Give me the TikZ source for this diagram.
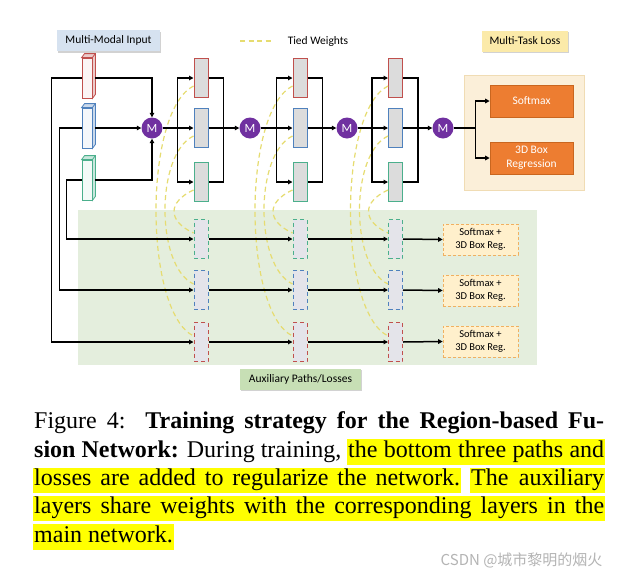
\documentclass[tikz,border=0pt]{standalone}
\usepackage{fontspec}
\setmainfont{Liberation Serif}
\newfontfamily\diagfont{Carlito}
\newfontfamily\cjkfont{Noto Sans CJK SC}
\usepackage{xcolor}
\usetikzlibrary{positioning, arrows.meta, calc, shadows}
\definecolor{redc}{HTML}{C0504D}
\definecolor{bluec}{HTML}{4F81BD}
\definecolor{greenc}{HTML}{4BAF8C}
\definecolor{mpurple}{HTML}{7030A0}
\definecolor{layergray}{HTML}{DCDCDC}
\definecolor{auxgray}{HTML}{E4E4EA}
\definecolor{tiedc}{HTML}{E6DC70}
\definecolor{auxbgc}{HTML}{E4EEDD}
\definecolor{lossbgc}{HTML}{FBEFD9}
\definecolor{lossbgedge}{HTML}{F0DCB4}
\definecolor{tagblue}{HTML}{D6E2F0}
\definecolor{tagyellow}{HTML}{FBEAA9}
\definecolor{taggreen}{HTML}{C7DFB5}
\definecolor{lossorange}{HTML}{ED7D31}
\definecolor{lossedge}{HTML}{C9661F}
\definecolor{auxlossfill}{HTML}{FFF0CC}
\definecolor{auxlossedge}{HTML}{F0B060}
\definecolor{hlyellow}{HTML}{FFFF00}
\definecolor{wmgray}{HTML}{B4B4B4}

\begin{document}
\begin{tikzpicture}[x=1pt, y=-1pt,
  every node/.style={font=\diagfont\fontsize{11.5}{14}\selectfont},
  inbox/.style={rectangle, line width=0.8pt, minimum width=10, minimum height=40, inner sep=0pt},
  layer/.style={rectangle, fill=layergray, line width=1pt, minimum width=14, minimum height=39, inner sep=0pt},
  auxlayer/.style={layer, fill=auxgray, dash pattern=on 4pt off 3pt},
  merge/.style={circle, fill=mpurple, text=white, minimum size=21, inner sep=0pt,
    font=\diagfont\fontsize{12.5}{12.5}\selectfont},
  flow/.style={-{Triangle[length=4.5pt,width=4.5pt]}, line width=1.5pt},
  link/.style={line width=1.5pt},
  tied/.style={draw=tiedc, line width=1.2pt, dash pattern=on 5pt off 3.5pt},
  tag/.style={rectangle, minimum height=21, inner sep=0pt,
    drop shadow={shadow xshift=1.2pt, shadow yshift=-1.5pt, opacity=0.35, fill=gray}},
  lossbox/.style={rectangle, fill=lossorange, draw=lossedge, line width=0.6pt, text=white,
    minimum width=83, minimum height=32, align=center, inner sep=0pt},
  auxloss/.style={rectangle, fill=auxlossfill, draw=auxlossedge, line width=0.6pt, densely dashed,
    minimum width=75, minimum height=31, align=center, inner sep=0pt,
    font=\diagfont\fontsize{10.5}{13}\selectfont},
  hl/.style={fill=hlyellow, inner xsep=1pt, inner ysep=0pt, text height=18pt, text depth=7.5pt},
]
\useasboundingbox[fill=white] (0,0) rectangle (622,579);

% panels and tags
\node[fill=auxbgc, minimum width=459, minimum height=155] (auxbg) at (307.5,287.5) {};
\node[fill=lossbgc, draw=lossbgedge, line width=0.6pt, minimum width=120, minimum height=115] (lossbg) at (524,132.5) {};
\node[tag, fill=tagblue, minimum width=103] (mmi) at (108.5,40.5) {Multi-Modal Input};
\node[tag, fill=tagyellow, minimum width=86] (mtl) at (525,41) {Multi-Task Loss};
\node[tag, fill=taggreen, minimum width=121] (apl) at (300.5,379) {Auxiliary Paths/Losses};

% legend
\coordinate (tw1) at (240,41);
\coordinate (tw2) at (273,41);
\draw[tied] (tw1) -- (tw2);
\node (twl) at (318,41) {Tied Weights};

% inputs
\foreach \i/\y/\col in {1/78/redc,2/128/bluec,3/180/greenc} {
  \node[inbox, draw=\col, fill=\col!6] (in\i) at (87,\y) {};
  \draw[draw=\col, fill=\col!30, line width=0.8pt] (in\i.north west) -- ++(3,-4)
    -- ($(in\i.north east)+(3,-4)$) -- ($(in\i.south east)+(3,-4)$)
    -- (in\i.south east) -- (in\i.north east) -- cycle;
  \draw[draw=\col, line width=0.8pt] (in\i.north east) -- ++(3,-4);
}

% merge nodes
\node[merge] (m1) at (152,128) {M};
\node[merge] (m2) at (250,128) {M};
\node[merge] (m3) at (347,128) {M};
\node[merge] (m4) at (443,128) {M};

% main and auxiliary layers
\foreach \c/\x in {1/201,2/300,3/395.5} {
  \foreach \r/\y/\col in {1/78/redc,2/128/bluec,3/182/greenc}
    \node[layer, draw=\col] (b\c\r) at (\x,\y) {};
  \foreach \r/\y/\col in {1/239/greenc,2/290/bluec,3/342/redc}
    \node[auxlayer, draw=\col] (a\c\r) at (\x,\y) {};
}

% losses
\node[lossbox] (soft) at (531.5,101) {Softmax};
\node[lossbox] (reg) at (531.5,158) {3D Box\\Regression};
\node[auxloss] (l1) at (480.5,239.5) {Softmax +\\3D Box Reg.};
\node[auxloss] (l2) at (480.5,290.5) {Softmax +\\3D Box Reg.};
\node[auxloss] (l3) at (480.5,341.5) {Softmax +\\3D Box Reg.};

% tied weights
\foreach \c in {1,2,3} {
  \draw[tied] ($(b\c1.west)+(0,8)$) .. controls +(-50,25) and +(-50,-25) .. ($(a\c3.west)+(0,-6)$);
  \draw[tied] ($(b\c2.west)+(0,8)$) .. controls +(-38,18) and +(-38,-18) .. ($(a\c2.west)+(0,-6)$);
  \draw[tied] ($(b\c3.west)+(0,8)$) .. controls +(-26,12) and +(-26,-12) .. ($(a\c1.west)+(0,-6)$);
}

% inputs to first merge
\draw[flow] (in1.east) ++(3,0) -| (m1.north);
\draw[flow] (in2.east) ++(3,0) -- (m1.west);
\draw[flow] (in3.east) ++(3,0) -| (m1.south);
\draw[flow] (in1.west) -- ++(-30,0) |- (a13.west);
\draw[flow] (in2.west) -- ++(-22,0) |- (a12.west);
\draw[flow] (in3.west) -- ++(-15,0) |- (a11.west);

% main path
\foreach \c/\m/\n in {1/m1/m2,2/m2/m3,3/m3/m4} {
  \coordinate (s\c) at ($(b\c2.west)+(-16,0)$);
  \draw[flow] (\m.east) -- (b\c2.west);
  \draw[flow] (s\c) |- (b\c1.west);
  \draw[flow] (s\c) |- (b\c3.west);
  \draw[link] (b\c1.east) -- ++(15,0) |- (b\c3.east);
  \draw[flow] (b\c2.east) -- (\n.west);
}
\coordinate (sj) at ($(m4.east)+(22,0)$);
\draw[link] (m4.east) -- (sj);
\draw[flow] (sj) |- (soft.west);
\draw[flow] (sj) |- (reg.west);

% auxiliary paths
\foreach \r in {1,2,3} {
  \draw[flow] (a1\r.east) -- (a2\r.west);
  \draw[flow] (a2\r.east) -- (a3\r.west);
  \draw[flow] (a3\r.east) -- (l\r.west);
}

% caption
\begin{scope}[every node/.style={font=\fontsize{24}{29}\selectfont, inner sep=0pt, anchor=base west}]
\node (cap1) at (34,428) {\makebox[570pt][s]{Figure 4:\ \ \textbf{Training strategy for the Region-based Fu-}}};
\node (cap2a) at (34,457) {\textbf{sion Network:} During training,};
\node[hl] (cap2b) at (347,457) {\makebox[256pt][s]{the bottom three paths and}};
\node[hl] (cap3a) at (33,485.5) {\makebox[426pt][s]{losses are added to regularize the network.}};
\node[hl] (cap3b) at (470,485.5) {\makebox[133pt][s]{The auxiliary}};
\node[hl] (cap4) at (33,513.5) {\makebox[570pt][s]{layers share weights with the corresponding layers in the}};
\node[hl] (cap5) at (33,542) {main network.};
\end{scope}
\node[font=\cjkfont\fontsize{15}{15}\selectfont, text=wmgray, anchor=east] (wm) at (606,560) {CSDN @城市黎明的烟火};
\end{tikzpicture}
\end{document}
